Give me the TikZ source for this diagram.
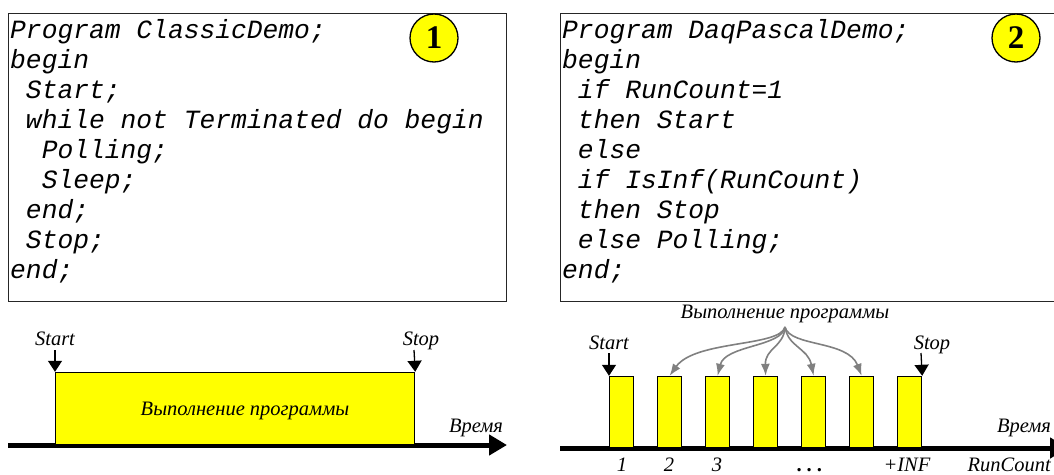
\documentclass[tikz,border=0pt]{standalone}
\usepackage{fontspec}
\setmainfont{Liberation Serif}
\newfontfamily\codefont{Liberation Mono}
\usetikzlibrary{arrows.meta}
\definecolor{runyellow}{RGB}{255,255,0}
\definecolor{arrgray}{RGB}{128,128,128}
\tikzset{
  codeline/.style={anchor=base west, inner sep=0pt, font=\codefont\itshape\fontsize{26.3}{30}\selectfont},
  codebox/.style={draw=black!85, line width=1.3pt, anchor=north west, inner sep=0pt},
  badge/.style={circle, draw=black, line width=1.3pt, fill=runyellow, minimum size=48pt, inner sep=0pt, font=\bfseries\fontsize{33}{33}\selectfont},
  lbl/.style={inner sep=0pt, font=\itshape\fontsize{20.5}{24}\selectfont},
  runbar/.style={draw=black, line width=1.2pt, fill=runyellow, anchor=south west, inner sep=0pt},
  evarrow/.style={line width=1.3pt, -{Triangle[width=14pt,length=11pt]}},
  axisarrow/.style={line width=5pt, -{Triangle[width=20pt,length=18pt]}},
  fanarrow/.style={draw=arrgray, line width=1.6pt, -{Latex[length=12pt,width=9pt]}},
}
\begin{document}
\begin{tikzpicture}[x=1pt,y=-1pt]
\useasboundingbox (0,0) rectangle (1054,474);
\clip (0,0) rectangle (1054,474);

% ---------- code boxes ----------
\node[codebox, minimum width=498pt, minimum height=288pt] (box1) at (8,13) {};
\node[codebox, minimum width=520pt, minimum height=288pt] (box2) at (560,13) {};

\foreach \t [count=\i] in {
  {Program ClassicDemo;},
  {begin},
  {\hphantom{x}Start;},
  {\hphantom{x}while not Terminated do begin},
  {\hphantom{xx}Polling;},
  {\hphantom{xx}Sleep;},
  {\hphantom{x}end;},
  {\hphantom{x}Stop;},
  {end;}}
  \node[codeline] (la\i) at (10,8+30*\i) {\t};

\foreach \t [count=\i] in {
  {Program DaqPascalDemo;},
  {begin},
  {\hphantom{x}if RunCount=1},
  {\hphantom{x}then Start},
  {\hphantom{x}else},
  {\hphantom{x}if IsInf(RunCount)},
  {\hphantom{x}then Stop},
  {\hphantom{x}else Polling;},
  {end;}}
  \node[codeline] (lb\i) at (562,8+30*\i) {\t};

\node[badge] (n1) at (434,38) {1};
\node[badge] (n2) at (1016,38) {2};

% ---------- left timeline ----------
\coordinate (a1s) at (8,445);
\coordinate (a1e) at (507,445);
\draw[axisarrow] (a1s) -- (a1e);
\node[runbar, minimum width=359pt, minimum height=72pt] (run) at (55,445) {};
\node[lbl] (runtxt) at (245,411) {Выполнение программы};
\node[lbl, anchor=base] (start1) at (55,345) {Start};
\node[lbl, anchor=base] (stop1) at (421,345) {Stop};
\coordinate (st1) at (55,350);
\coordinate (sp1) at (414,350);
\draw[evarrow] (st1) -- (run.north west);
\draw[evarrow] (sp1) -- (run.north east);
\node[lbl, anchor=base] (time1) at (476,432) {Время};

% ---------- right timeline ----------
\coordinate (a2s) at (560,448);
\coordinate (a2e) at (1068,448);
\draw[axisarrow] (a2s) -- (a2e);
\foreach \i in {1,...,7}
  \node[runbar, minimum width=24pt, minimum height=71pt] (b\i) at (609+48*\i-48,448) {};
\node[lbl, anchor=base] (start2) at (609,349) {Start};
\node[lbl, anchor=base] (stop2) at (932,349) {Stop};
\coordinate (st2) at (609,353);
\coordinate (sp2) at (921,353);
\draw[evarrow] (st2) -- (b1.north west);
\draw[evarrow] (sp2) -- (b7.north east);

\node[lbl] (exec) at (785,314) {Выполнение программы};
\coordinate (src) at (785,327);
\draw[fanarrow] (src) .. controls (780,347) and (695,340) .. (b2.north);
\draw[fanarrow] (src) .. controls (782,347) and (725,345) .. (b3.north);
\draw[fanarrow] (src) .. controls (784,347) and (765,348) .. (b4.north);
\draw[fanarrow] (src) .. controls (788,347) and (808,348) .. (b5.north);
\draw[fanarrow] (src) .. controls (790,347) and (848,340) .. (b6.north);

\node[lbl, anchor=base] (time2) at (1024,432) {Время};
\node[lbl, anchor=base] (c1) at (622,471) {1};
\node[lbl, anchor=base] (c2) at (669,471) {2};
\node[lbl, anchor=base] (c3) at (717,471) {3};
\node[lbl, anchor=base] (cdots) at (810,471) {\textbf{.\hspace{5pt}.\hspace{5pt}.}};
\node[lbl, anchor=base] (cinf) at (907,471) {+INF};
\node[lbl, anchor=base east] (crun) at (1051,471) {RunCount};
\end{tikzpicture}
\end{document}
